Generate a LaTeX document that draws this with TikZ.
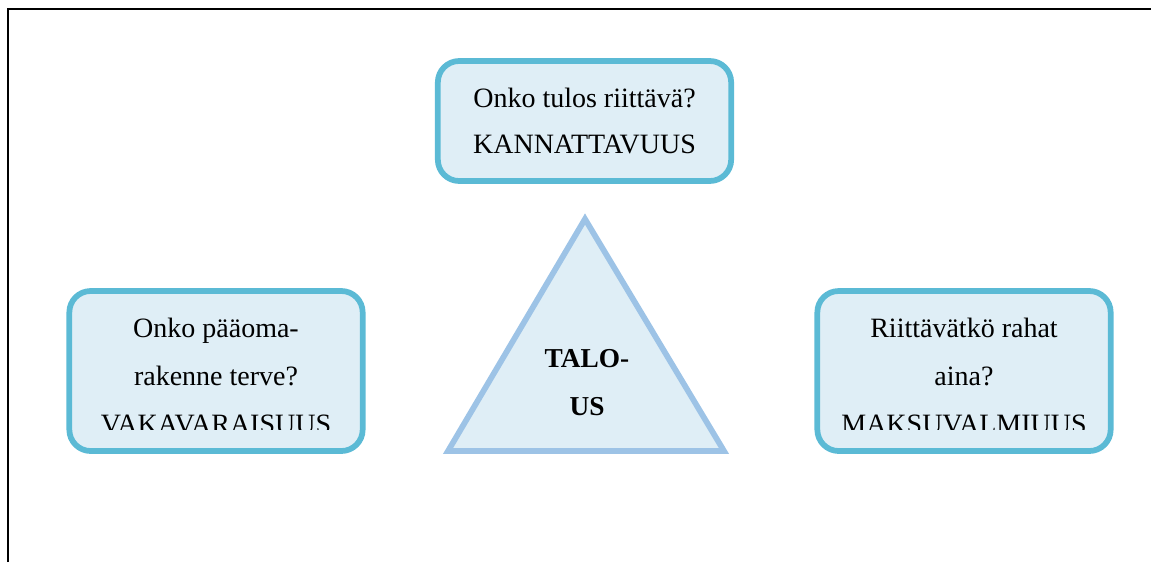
\documentclass[tikz,border=0pt]{standalone}
\usepackage{fontspec}
\setmainfont{Liberation Serif}
\usepackage{tikz}
\usetikzlibrary{positioning,calc}

\definecolor{boxline}{HTML}{5BBAD5}
\definecolor{boxfill}{HTML}{DFEEF6}
\definecolor{triline}{HTML}{9DC3E6}

\begin{document}
\begin{tikzpicture}[
    x=0.75pt, y=-0.75pt,
    qbox/.style={rectangle, draw=boxline, fill=boxfill, line width=4.3pt,
                 rounded corners=16pt, inner sep=0pt, align=center,
                 minimum width=220pt, font=\fontsize{21}{34}\selectfont},
    qtext/.style={inner sep=0pt, align=center, font=\fontsize{21}{36}\selectfont},
    core/.style={inner sep=0pt, align=center, font=\fontsize{20.5}{36}\selectfont\bfseries}
]
\useasboundingbox (0,0) rectangle (1151,562);

% Frame
\draw[line width=1.5pt] (8,562) -- (8,9) -- (1151,9);

% Question boxes
\node[qbox, minimum height=90pt] (kann) at (584.5,121) {Onko tulos riittävä?\\KANNATTAVUUS};
\node[qbox, minimum height=120pt] (vaka) at (216,371) {};
\node[qbox, minimum height=120pt] (maks) at (964,371) {};

% Box texts (last line cut by the box)
\begin{scope}
  \clip (0,0) rectangle (1151,429);
  \node[qtext, anchor=north] (vakatext) at ($(vaka.north)+(0,30)$) {Onko pääoma-\\rakenne terve?\\VAKAVARAISUUS};
  \node[qtext, anchor=north] (makstext) at ($(maks.north)+(0,30)$) {Riittävätkö rahat\\aina?\\MAKSUVALMIUUS};
\end{scope}

% Triangle
\coordinate (apex) at (585,219);
\coordinate (left) at (448,451);
\coordinate (right) at (724,451);
\draw[draw=triline, fill=boxfill, line width=4.3pt] (left) -- (apex) -- (right) -- cycle;
\node[core] (talous) at (587,383) {TALO-\\US};

\end{tikzpicture}
\end{document}
